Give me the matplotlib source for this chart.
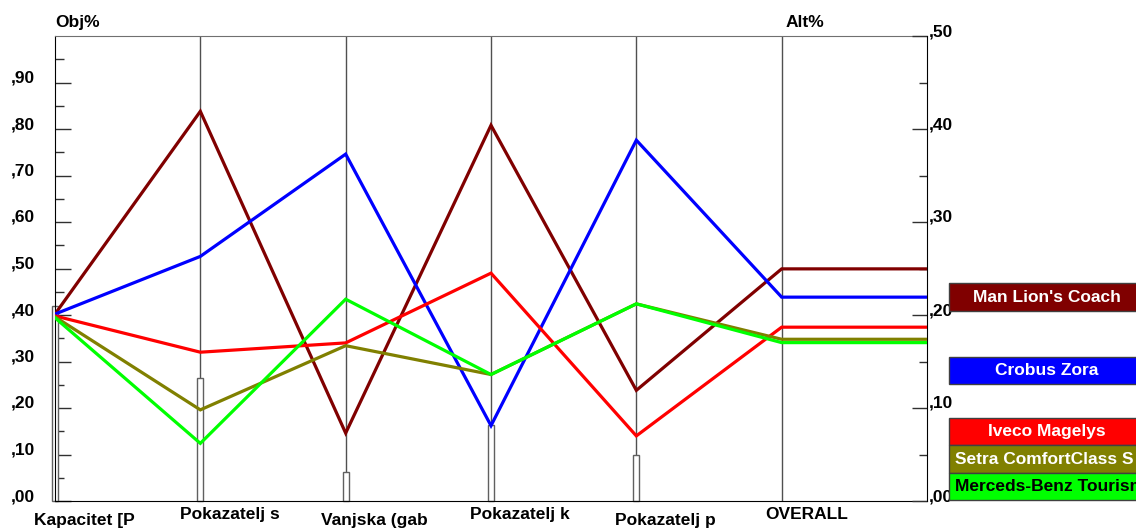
import matplotlib.pyplot as plt
from matplotlib.patches import Rectangle
from matplotlib.transforms import blended_transform_factory
import numpy as np

plt.rcParams['font.family'] = ['Liberation Sans', 'DejaVu Sans']
plt.rcParams['font.weight'] = 'bold'

criteria = ['Kapacitet [P', 'Pokazatelj s', 'Vanjska (gab', 'Pokazatelj k', 'Pokazatelj p']
obj_weights = [0.420, 0.265, 0.063, 0.163, 0.099]

alternatives = ["Man Lion's Coach", 'Crobus Zora', 'Iveco Magelys',
                'Setra ComfortClass S', 'Merceds-Benz Tourismo']
alt_colors = ['#800000', '#0000ff', '#ff0000', '#808000', '#00ff00']
text_colors = ['white', 'white', 'white', 'white', 'black']

# alternative priority under each criterion (Alt%)
man_lion = [0.201, 0.419, 0.073, 0.404, 0.119]
crobus = [0.201, 0.263, 0.373, 0.081, 0.388]
iveco = [0.199, 0.160, 0.170, 0.245, 0.070]
setra = [0.198, 0.098, 0.167, 0.136, 0.212]
merc = [0.197, 0.062, 0.217, 0.136, 0.212]
alt_values = [man_lion, crobus, iveco, setra, merc]

overall = [0.2496, 0.2192, 0.1869, 0.1739, 0.1703]

W, H = 1136, 529
px = 72 / 100  # pixels -> points
fig = plt.figure(figsize=(W / 100, H / 100), dpi=100)
ax = fig.add_axes([55 / W, (H - 501) / H, (927 - 55) / W, (501 - 36) / H])
ax2 = ax.twinx()

n = len(criteria)
ax.set_xlim(0, n + 1)
ax.set_ylim(0, 1.0)
ax2.set_ylim(0, 0.5)

# criterion lines
for i in range(1, n + 1):
    ax.axvline(i, color='#505050', lw=1, zorder=1)

# objective weight bars
ax.bar(range(n), obj_weights, width=0.042, color='white', edgecolor='#606060',
       linewidth=1, zorder=2, clip_on=False)

# alternative lines
xs = list(range(n)) + [n, n + 1]
for vals, ov, c in zip(alt_values, overall, alt_colors):
    ax2.plot(xs, list(vals) + [ov, ov], color=c, lw=2.3, solid_joinstyle='miter', zorder=3)

# left axis ticks
fmt = lambda v: ',%02d' % round(v * 100)
ax.set_yticks(np.arange(0, 0.91, 0.1))
ax.set_yticklabels([fmt(v) for v in np.arange(0, 0.91, 0.1)])
ax.set_yticks(np.arange(0.05, 1.0, 0.1), minor=True)
ax.tick_params(axis='y', which='major', direction='in', length=16 * px, width=1,
               pad=20 * px, labelsize=12.5, color='#303030')
ax.tick_params(axis='y', which='minor', direction='in', length=9 * px, width=1, color='#303030')
for lab in ax.get_yticklabels():
    lab.set_va('baseline')
ax.set_xticks([])

# right axis ticks
ax2.set_yticks(np.arange(0, 0.51, 0.1))
ax2.set_yticklabels([fmt(v) for v in np.arange(0, 0.51, 0.1)])
ax2.set_yticks(np.arange(0.05, 0.5, 0.1), minor=True)
ax2.tick_params(axis='y', which='major', direction='in', length=15 * px, width=1,
                pad=2 * px, labelsize=12.5, color='#303030')
ax2.tick_params(axis='y', which='minor', direction='in', length=8 * px, width=1, color='#303030')
for lab in ax2.get_yticklabels():
    lab.set_va('baseline')

for s in ['left', 'bottom']:
    ax.spines[s].set_color('black')
ax.spines['top'].set_color('#707070')
ax.spines['right'].set_visible(False)
for s in ['left', 'bottom', 'top']:
    ax2.spines[s].set_visible(False)
ax2.spines['right'].set_color('black')

# bottom labels
tr = blended_transform_factory(ax.transData, ax.transAxes)
labels = criteria + ['OVERALL']
for i, lab in enumerate(labels):
    y = -0.028 if i % 2 == 1 else -0.042
    dx = 0.2 if i < n else 0.17
    ax.text(i + dx, y, lab, transform=tr, ha='center', va='center', fontsize=12.5)

ax.text(0, 1.03, 'Obj%', transform=tr, ha='left', va='center', fontsize=12.5)
ax.text(n + 0.03, 1.03, 'Alt%', transform=tr, ha='left', va='center', fontsize=12.5)

# legend boxes on the right
boxes = [(283, 311), (357, 384), (418, 445), (445, 473), (473, 500)]
for (t, b), name, c, tc in zip(boxes, alternatives, alt_colors, text_colors):
    fig.patches.append(Rectangle((949 / W, (H - b) / H), 196 / W, (b - t) / H,
                                 transform=fig.transFigure, facecolor=c,
                                 edgecolor='#404040', lw=1))
    yc = (H - (t + b) / 2) / H
    if len(name) > 17:
        fig.text(955 / W, yc, name, ha='left', va='center', color=tc, fontsize=12.5)
    else:
        fig.text(1047 / W, yc, name, ha='center', va='center', color=tc, fontsize=12.5)

fig.savefig('out.png', dpi=100, facecolor='white')
